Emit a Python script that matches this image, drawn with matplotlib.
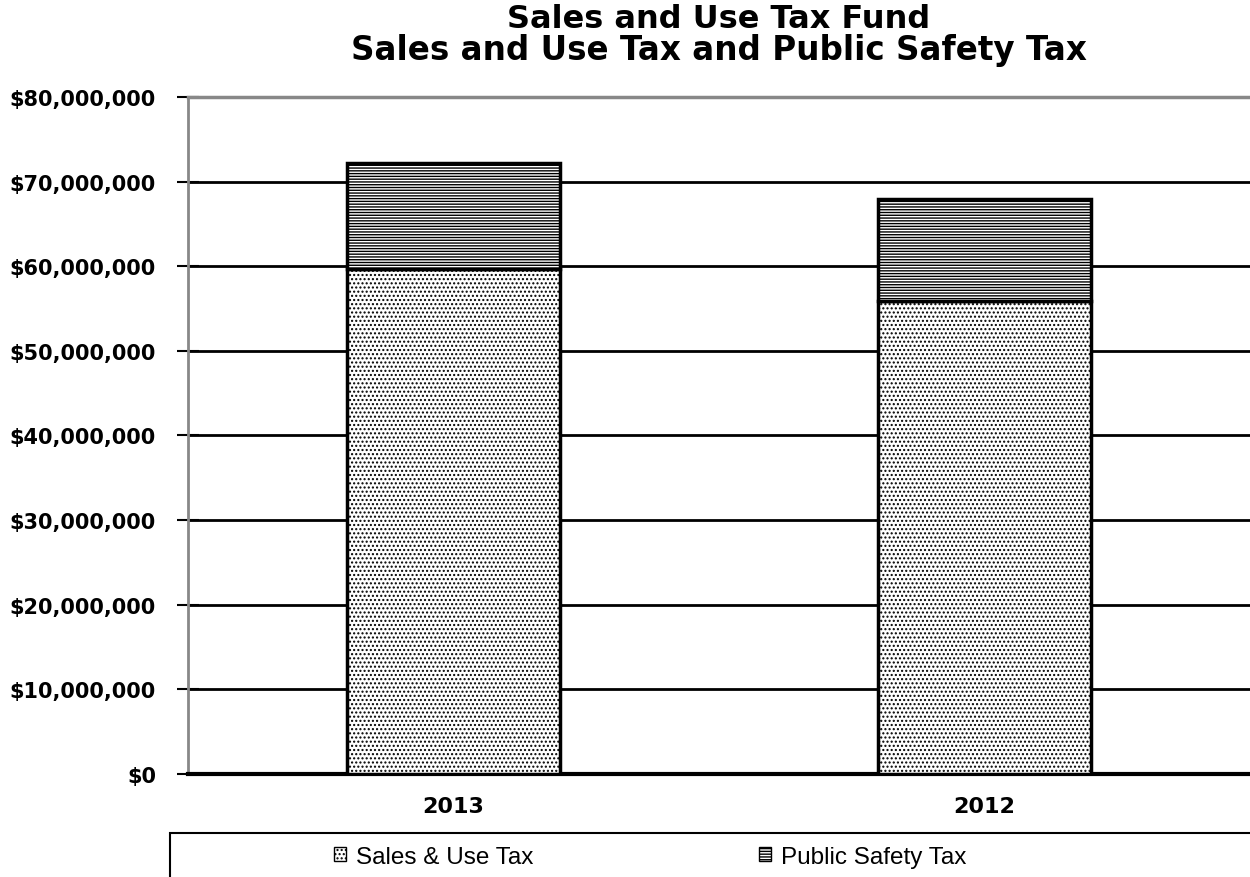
import numpy as np
import matplotlib.pyplot as plt
from matplotlib.patches import Rectangle
from matplotlib.ticker import FuncFormatter

years = ['2013', '2012']
sales_use = [59.7e6, 55.9e6]
public_safety = [12.5e6, 12.0e6]
series_names = ['Sales & Use Tax', 'Public Safety Tax']

plt.rcParams['font.family'] = ['DejaVu Sans']
plt.rcParams['hatch.linewidth'] = 1.0

fig = plt.figure(figsize=(12.5, 8.78), dpi=100)
ax = fig.add_axes([0.1504, 0.1173, 0.8496, 0.7711])

x = np.arange(len(years))
b1 = ax.bar(x, sales_use, width=0.4, color='white', edgecolor='black',
            hatch='....', linewidth=2.5, zorder=3, label=series_names[0])
b2 = ax.bar(x, public_safety, width=0.4, bottom=sales_use, color='white',
            edgecolor='black', hatch='------', linewidth=2.5, zorder=3,
            label=series_names[1])

ax.set_xlim(-0.5, 1.5)
ax.set_ylim(0, 80e6)
ax.set_yticks(np.arange(0, 80e6 + 1, 10e6))
ax.yaxis.set_major_formatter(FuncFormatter(lambda v, p: '${:,.0f}'.format(v)))
ax.set_xticks(x)
ax.set_xticklabels(years, fontsize=16, fontweight='bold')
for lbl in ax.get_yticklabels():
    lbl.set_fontweight('bold')
    lbl.set_fontsize(15)
ax.tick_params(axis='y', direction='inout', length=16, width=1.5, pad=15)
ax.tick_params(axis='x', length=0, pad=16)

ax.grid(axis='y', color='black', linewidth=2, zorder=0)
ax.set_axisbelow(True)

ax.spines['right'].set_visible(False)
ax.spines['top'].set_color('#888888')
ax.spines['top'].set_linewidth(2.5)
ax.spines['left'].set_color('#888888')
ax.spines['left'].set_linewidth(2)
ax.spines['bottom'].set_color('black')
ax.spines['bottom'].set_linewidth(3)

fig.text(0.5752, 0.9775, 'Sales and Use Tax Fund', ha='center', va='center',
         fontsize=23, fontweight='bold')
fig.text(0.5752, 0.9425, 'Sales and Use Tax and Public Safety Tax', ha='center',
         va='center', fontsize=23.5, fontweight='bold')

# legend box spans to the right and bottom edges
fig.patches.append(Rectangle((0.136, -0.01), 0.87, 0.06, transform=fig.transFigure,
                             facecolor='white', edgecolor='black', linewidth=1.5))
leg = fig.legend(handles=[b1, b2], labels=series_names, loc='center',
                 bbox_to_anchor=(0.52, 0.023), ncol=2, frameon=False,
                 prop={'family': 'Liberation Sans', 'size': 17.5},
                 handlelength=0.5, handleheight=0.5, handletextpad=0.4,
                 columnspacing=9.3)
for h in leg.legend_handles:
    h.set_linewidth(1)

fig.savefig('out.png', dpi=100)
